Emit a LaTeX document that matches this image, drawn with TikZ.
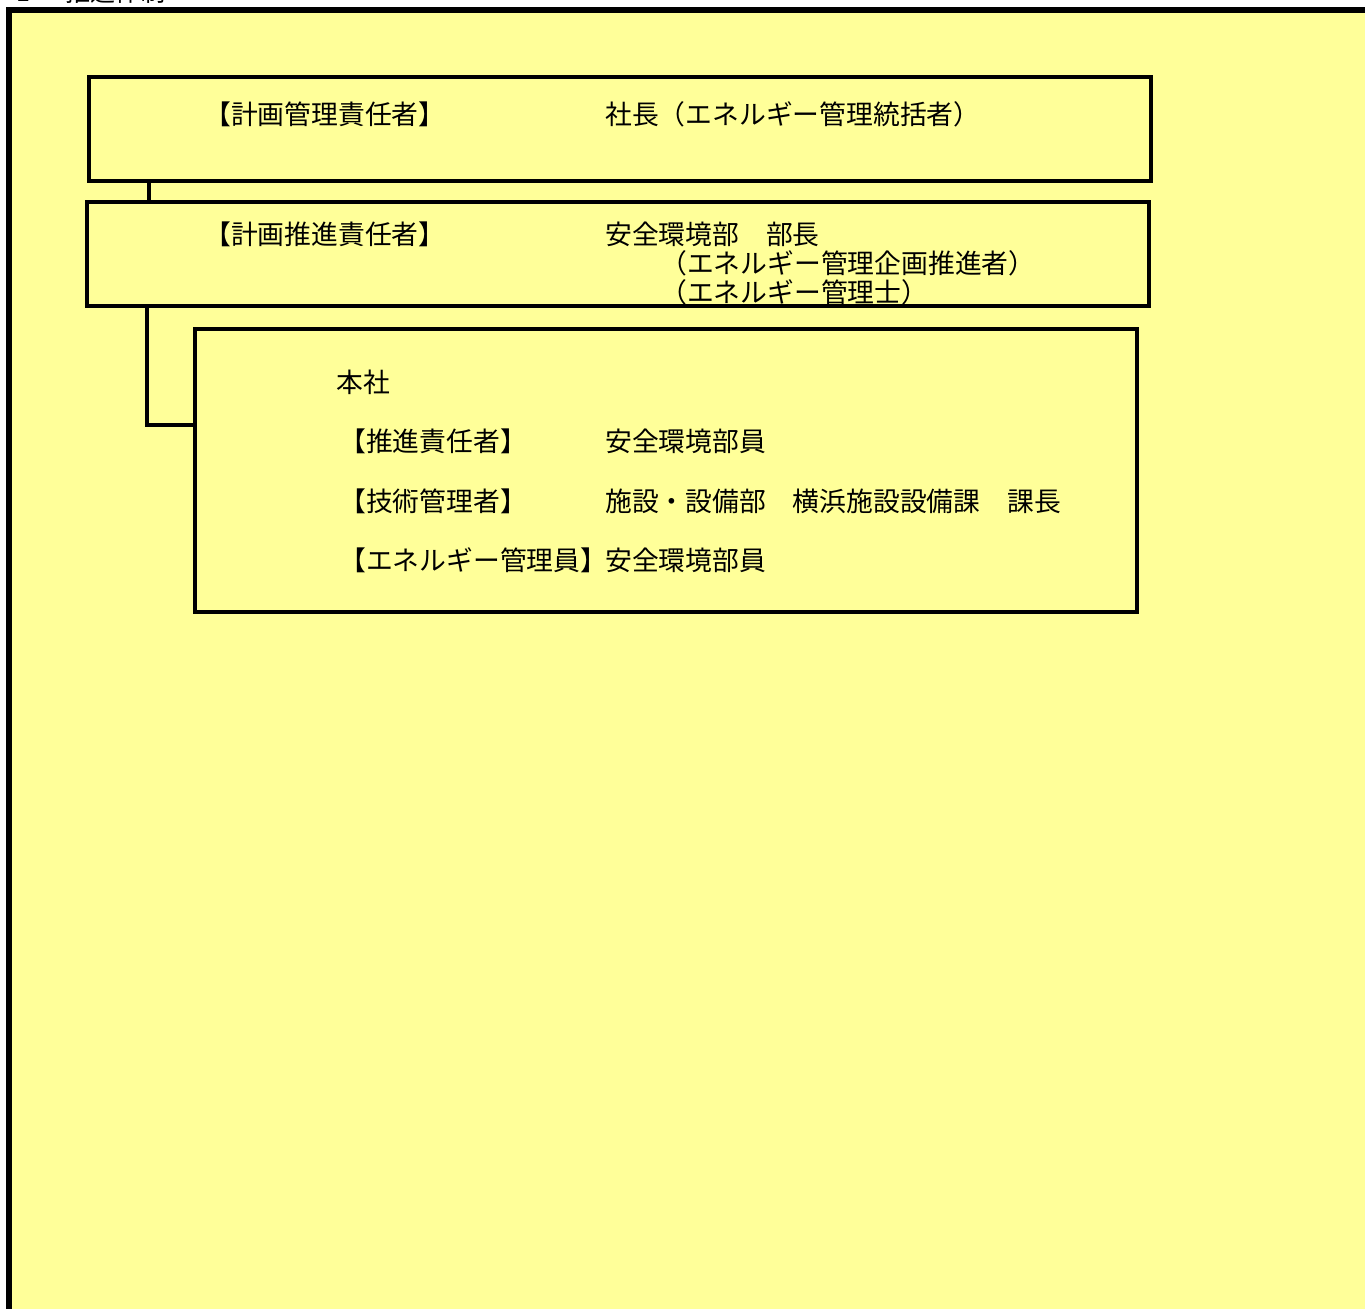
\documentclass[tikz,border=0pt]{standalone}
\usepackage{fontspec}
\setmainfont{Noto Sans CJK JP}
\usetikzlibrary{fit}
\definecolor{paleyellow}{RGB}{255,255,153}

\begin{document}
\begin{tikzpicture}[x=0.75pt, y=-0.75pt,
  orgbox/.style={draw, line width=3.7pt, inner sep=0pt},
  conn/.style={line width=3.7pt},
  lbl/.style={anchor=west, inner sep=0pt, font=\fontsize{20.1}{23}\selectfont}]
  \useasboundingbox (0,0) rectangle (1365,1309);
  \clip (0,0) rectangle (1365,1309);
  \node[lbl, font=\fontsize{18.8}{22}\selectfont] (title) at (16,-8) {1\hspace{1.4em}推進体制};
  \draw[line width=4.5pt, fill=paleyellow] (9,10) rectangle (1400,1340);

  \node[orgbox, fit={(89,77) (1151,181)}] (kanri) {};
  \node[orgbox, fit={(87,202) (1149,306)}] (suishin) {};
  \node[orgbox, fit={(195,329) (1137,612)}] (honsha) {};

  \coordinate (j1) at (149,0);
  \coordinate (j2) at (147,425);
  \draw[conn] (kanri.south -| j1) -- (suishin.north -| j1);
  \draw[conn] (suishin.south -| j2) |- (honsha.west |- j2);

  \node[lbl] (kanriRole) at (204,114) {【計画管理責任者】};
  \node[lbl] (kanriName) at (605,114) {社長（エネルギー管理統括者）};
  \node[lbl] (suishinRole) at (204,234) {【計画推進責任者】};
  \node[lbl] (suishinName) at (605,234) {安全環境部　部長};
  \node[lbl] (suishinSub1) at (660,263) {（エネルギー管理企画推進者）};
  \node[lbl] (suishinSub2) at (660,292) {（エネルギー管理士）};

  \node[lbl] (hq) at (336,382) {本社};
  \node[lbl] (hqRole1) at (339,441) {【推進責任者】};
  \node[lbl] (hqName1) at (605,441) {安全環境部員};
  \node[lbl] (hqRole2) at (339,501) {【技術管理者】};
  \node[lbl] (hqName2) at (605,501) {施設・設備部　横浜施設設備課　課長};
  \node[lbl] (hqRole3) at (339,560) {【エネルギー管理員】};
  \node[lbl] (hqName3) at (605,560) {安全環境部員};
\end{tikzpicture}
\end{document}
